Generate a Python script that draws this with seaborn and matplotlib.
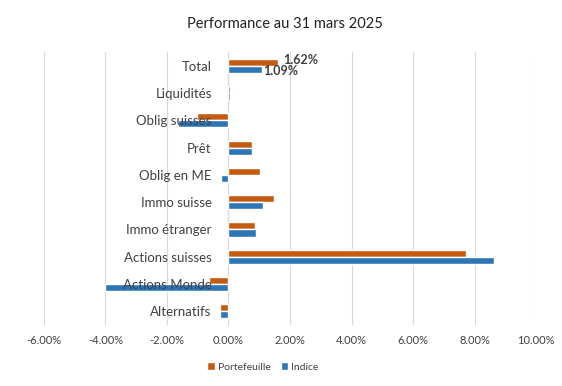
import pandas as pd
import numpy as np
import seaborn as sns
import matplotlib.pyplot as plt
from matplotlib.ticker import FuncFormatter

categories = ["Total", "Liquidités", "Oblig suisses", "Prêt", "Oblig en ME",
              "Immo suisse", "Immo étranger", "Actions suisses", "Actions Monde", "Alternatifs"]
portefeuille = [1.62, 0.05, -1.02, 0.75, 1.04, 1.49, 0.87, 7.71, -0.62, -0.26]
indice = [1.09, 0.04, -1.64, 0.75, -0.23, 1.13, 0.91, 8.62, -4.00, -0.26]
series = ["Portefeuille", "Indice"]
colors = ["#C55A11", "#2E75B6"]
xticks = [-6, -4, -2, 0, 2, 4, 6, 8, 10]

df = pd.DataFrame({
    "cat": categories * 2,
    "serie": [series[0]] * len(categories) + [series[1]] * len(categories),
    "val": portefeuille + indice,
})

sns.set_style("white")
plt.rcParams['font.family'] = ['Lato', 'DejaVu Sans']

fig = plt.figure(figsize=(5.62, 3.86), dpi=100)
ax = fig.add_axes([0.078, 0.158, 0.876, 0.707])

sns.barplot(data=df, y="cat", x="val", hue="serie", order=categories,
            hue_order=series, palette=colors, width=0.52, gap=0,
            orient="h", ax=ax, legend=True, saturation=1)

ax.set_xlim(-6, 10)
ax.set_xticks(xticks)
ax.xaxis.set_major_formatter(FuncFormatter(lambda v, p: f"{v:.2f}%"))
ax.grid(axis="x", color="#D9D9D9", linewidth=0.8)
ax.set_axisbelow(True)
# category labels sit on top of the bars, like in Excel
ax.yaxis.set_zorder(3)
for s in ["top", "right", "bottom"]:
    ax.spines[s].set_visible(False)
ax.spines["left"].set_position(("data", 0))
ax.spines["left"].set_color("#D9D9D9")
ax.spines["left"].set_linewidth(0.8)
ax.spines["left"].set_zorder(0.6)
ax.tick_params(axis="y", length=0, pad=12, labelsize=9.5, labelcolor="#404040")
ax.tick_params(axis="x", length=0, pad=7, labelsize=8, labelcolor="#404040")
ax.set_xlabel("")
ax.set_ylabel("")

# data labels on Total
ax.text(portefeuille[0] + 0.15, -0.2, f"{portefeuille[0]:.2f}%", fontsize=9,
        fontweight="bold", color="#404040", va="center")
ax.text(indice[0] + 0.05, 0.2, f"{indice[0]:.2f}%", fontsize=9,
        fontweight="bold", color="#404040", va="center")

handles, labels = ax.get_legend_handles_labels()
ax.legend(handles, labels, loc="center", bbox_to_anchor=(0.468, 0.049),
          bbox_transform=fig.transFigure, ncol=2, frameon=False, fontsize=7.5,
          handlelength=0.7, handleheight=0.7, handletextpad=0.3, columnspacing=1.0,
          labelcolor="#404040")

fig.suptitle("Performance au 31 mars 2025", x=0.507, y=0.955, fontsize=10.5,
             color="#202020")

fig.savefig("out.png", dpi=100)
